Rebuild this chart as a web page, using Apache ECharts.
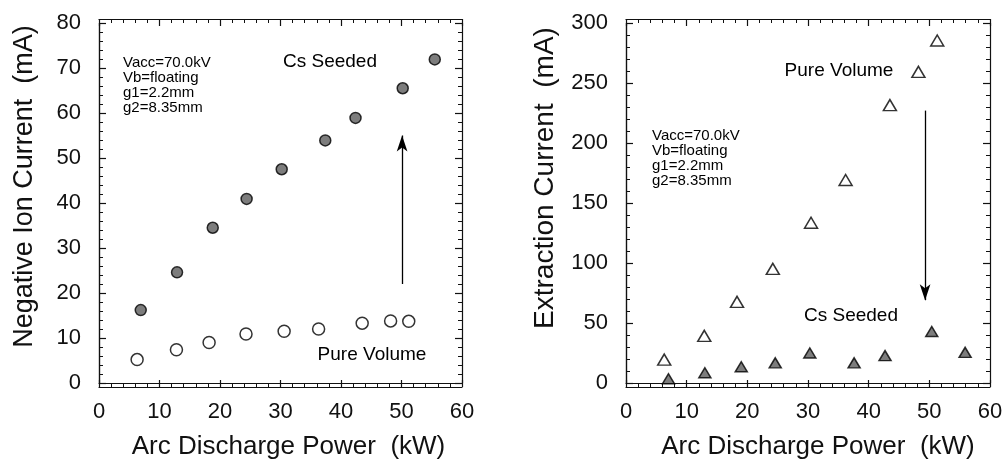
<!DOCTYPE html>
<html><head><meta charset="utf-8">
<script src="https://cdn.jsdelivr.net/npm/echarts@6/dist/echarts.min.js"></script>
<style>html,body{margin:0;padding:0;background:#fff}#c{width:1006px;height:465px}</style>
</head><body><div id="c"></div>
<script>
// Left panel: Negative Ion Current vs Arc Discharge Power
const leftCsPower = [6.9, 12.9, 18.8, 24.4, 30.2, 37.4, 42.4, 50.2, 55.5];
const leftCsCurrent = [16.2, 24.6, 34.5, 40.9, 47.5, 53.9, 58.9, 65.5, 71.9];
const leftPvPower = [6.3, 12.8, 18.2, 24.3, 30.6, 36.3, 43.5, 48.2, 51.2];
const leftPvCurrent = [5.2, 7.4, 9.0, 10.9, 11.5, 12.0, 13.3, 13.8, 13.7];
// Right panel: Extraction Current vs Arc Discharge Power
const rightPvPower = [6.3, 12.9, 18.3, 24.2, 30.5, 36.2, 43.5, 48.2, 51.3];
const rightPvCurrent = [19.5, 39.3, 67.6, 95.1, 133.5, 169.2, 231.6, 259.3, 285.4];
const rightCsPower = [7.0, 13.0, 19.0, 24.6, 30.3, 37.6, 42.7, 50.4, 55.9];
const rightCsCurrent = [3.5, 8.5, 13.5, 16.8, 25.0, 16.8, 22.8, 42.9, 25.5];
// Arrows (data coordinates)
const leftArrow = [[50.1, 22], [50.1, 55]];
const rightArrow = [[49.3, 227], [49.3, 69]];
const infoLines = ['Vacc=70.0kV', 'Vb=floating', 'g1=2.2mm', 'g2=8.35mm'];

const zip = (a, b) => a.map((v, i) => [v, b[i]]);
const FONT = '"Liberation Sans", Arial, Helvetica, sans-serif';
const black = '#111';
const GW = [363, 364], GH = 364;

const lineSt = { color: black, width: 1.2 };
// labelled axis (no ticks)
function xLab(grid, shift) {
  return {
    gridIndex: grid, type: 'value', min: 0, max: 60, interval: 10, position: 'bottom',
    axisLine: { show: true, onZero: false, lineStyle: lineSt },
    axisTick: { show: false }, minorTick: { show: false }, splitLine: { show: false },
    axisLabel: { show: true, margin: 18, fontSize: 22, color: black, fontFamily: FONT },
    name: 'Arc Discharge Power  (kW)', nameLocation: 'middle', nameGap: 51,
    nameTextStyle: { fontSize: 26, color: black, fontFamily: FONT, padding: [0, 0, 0, shift] }
  };
}
// tick-only axis placed on the opposite side via negative offset so outward ticks point inside
function xTick(grid, pos) {
  return {
    gridIndex: grid, type: 'value', min: 0, max: 60, interval: 10, position: pos, offset: -GH,
    axisLine: { show: true, onZero: false, lineStyle: lineSt },
    axisTick: { show: true, inside: false, length: 7, lineStyle: lineSt },
    minorTick: { show: true, splitNumber: 5, length: 4, lineStyle: { color: black, width: 1 } },
    splitLine: { show: false }, axisLabel: { show: false }
  };
}
function yLab(grid, max, interval, name, size, gap, shift) {
  return {
    gridIndex: grid, type: 'value', min: 0, max: max, interval: interval, position: 'left',
    axisLine: { show: true, onZero: false, lineStyle: lineSt },
    axisTick: { show: false }, minorTick: { show: false }, splitLine: { show: false },
    axisLabel: { show: true, margin: 18, fontSize: 22, color: black, fontFamily: FONT },
    name: name, nameLocation: 'middle', nameGap: gap, nameRotate: 90,
    nameTextStyle: { fontSize: size, color: black, fontFamily: FONT, padding: [0, 0, 0, shift] }
  };
}
function yTick(grid, pos, max, interval) {
  return {
    gridIndex: grid, type: 'value', min: 0, max: max, interval: interval, position: pos, offset: -GW[grid],
    axisLine: { show: true, onZero: false, lineStyle: lineSt },
    axisTick: { show: true, inside: false, length: 7, lineStyle: lineSt },
    minorTick: { show: true, splitNumber: 5, length: 4, lineStyle: { color: black, width: 1 } },
    splitLine: { show: false }, axisLabel: { show: false }
  };
}

const filled = { color: '#5c5c5c', borderColor: '#000', borderWidth: 1.5 };
const hollow = { color: '#fff', borderColor: '#000', borderWidth: 1.5 };

function arrowLine(xi, yi, pts) {
  return {
    type: 'scatter', xAxisIndex: xi, yAxisIndex: yi, data: [], silent: true,
    markLine: {
      silent: true, symbol: ['none', 'arrow'], symbolSize: [8, 16],
      label: { show: false },
      lineStyle: { color: '#000', width: 1.3, type: 'solid' },
      data: [[{ coord: pts[0] }, { coord: pts[1] }]]
    }
  };
}

const option = {
  animation: false,
  backgroundColor: '#fff',
  grid: [
    { left: 99, top: 23, width: GW[0], height: GH },
    { left: 626, top: 23, width: GW[1], height: GH }
  ],
  xAxis: [xLab(0, 16), xTick(0, 'top'), xTick(0, 'bottom'), xLab(1, 20), xTick(1, 'top'), xTick(1, 'bottom')],
  yAxis: [
    yLab(0, 80, 10, 'Negative Ion Current  (mA)', 27, 61, 33),
    yTick(0, 'right', 80, 10), yTick(0, 'left', 80, 10),
    yLab(1, 300, 50, 'Extraction Current  (mA)', 28, 67, 50),
    yTick(1, 'right', 300, 50), yTick(1, 'left', 300, 50)
  ],
  series: [
    { type: 'scatter', xAxisIndex: 0, yAxisIndex: 0, symbol: 'circle', symbolSize: 11, itemStyle: filled, data: zip(leftCsPower, leftCsCurrent) },
    { type: 'scatter', xAxisIndex: 0, yAxisIndex: 0, symbol: 'circle', symbolSize: 12, itemStyle: hollow, data: zip(leftPvPower, leftPvCurrent) },
    { type: 'scatter', xAxisIndex: 3, yAxisIndex: 3, symbol: 'triangle', symbolSize: [13, 11], itemStyle: hollow, data: zip(rightPvPower, rightPvCurrent) },
    { type: 'scatter', xAxisIndex: 3, yAxisIndex: 3, symbol: 'triangle', symbolSize: [12, 10], itemStyle: filled, data: zip(rightCsPower, rightCsCurrent) },
    arrowLine(0, 0, leftArrow),
    arrowLine(3, 3, rightArrow)
  ],
  graphic: [
    { type: 'text', left: 123, top: 55, style: { text: infoLines.join('\n'), font: '15px ' + FONT, lineHeight: 15, fill: '#000' } },
    { type: 'text', left: 652, top: 128, style: { text: infoLines.join('\n'), font: '15px ' + FONT, lineHeight: 15, fill: '#000' } },
    { type: 'text', x: 330, y: 62, style: { text: 'Cs Seeded', font: '19px ' + FONT, fill: '#000', align: 'center', verticalAlign: 'middle' } },
    { type: 'text', x: 372, y: 355, style: { text: 'Pure Volume', font: '19px ' + FONT, fill: '#000', align: 'center', verticalAlign: 'middle' } },
    { type: 'text', x: 839, y: 71, style: { text: 'Pure Volume', font: '19px ' + FONT, fill: '#000', align: 'center', verticalAlign: 'middle' } },
    { type: 'text', x: 851, y: 316, style: { text: 'Cs Seeded', font: '19px ' + FONT, fill: '#000', align: 'center', verticalAlign: 'middle' } }
  ]
};
const chart = echarts.init(document.getElementById('c'), null, { renderer: 'canvas' });
chart.setOption(option);
</script>
</body></html>
